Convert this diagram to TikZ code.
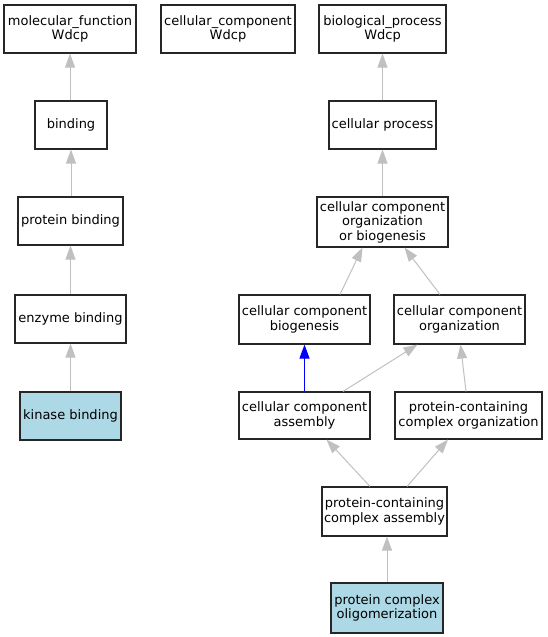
\documentclass[tikz,border=0pt]{standalone}
\usepackage{fontspec}
\setmainfont{DejaVu Sans}
\usetikzlibrary{arrows.meta}
\definecolor{edgegrey}{HTML}{C0C0C0}
\definecolor{boxblue}{HTML}{ADD8E6}
\begin{document}
\begin{tikzpicture}[x=1pt,y=-1pt,
  term/.style={draw=black!85,line width=1.1pt,fill=white,align=center,inner sep=0pt,
    font=\fontsize{13}{14.5}\selectfont},
  leaf/.style={term,fill=boxblue},
  isa/.style={draw=edgegrey,line width=1pt,-{Triangle[length=14pt,width=10pt]}},
  partof/.style={draw=blue,line width=1pt,-{Triangle[length=14pt,width=10pt]}}]
\useasboundingbox (0,0) rectangle (547,637);
% nodes
\node[term,minimum width=132pt,minimum height=48pt] (mf) at (70,29) {molecular\_function\\Wdcp};
\node[term,minimum width=134pt,minimum height=48pt] (cc) at (228,29) {cellular\_component\\Wdcp};
\node[term,minimum width=127pt,minimum height=48pt] (bp) at (382.5,29) {biological\_process\\Wdcp};
\node[term,minimum width=72pt,minimum height=48pt] (bind) at (71,125) {binding};
\node[term,minimum width=107pt,minimum height=48pt] (cp) at (382.5,125) {cellular process};
\node[term,minimum width=105pt,minimum height=48pt] (pb) at (70.5,221) {protein binding};
\node[term,minimum width=131pt,minimum height=50pt] (ccob) at (382.5,222) {cellular component\\organization\\or biogenesis};
\node[term,minimum width=111pt,minimum height=48pt] (eb) at (70.5,319) {enzyme binding};
\node[leaf,minimum width=101pt,minimum height=48pt] (kb) at (70.5,416) {kinase binding};
\node[term,minimum width=131pt,minimum height=49pt] (ccb) at (304.5,319.5) {cellular component\\biogenesis};
\node[term,minimum width=131pt,minimum height=49pt] (cco) at (459.5,319.5) {cellular component\\organization};
\node[term,minimum width=131pt,minimum height=47pt] (cca) at (304.5,415.5) {cellular component\\assembly};
\node[term,minimum width=147pt,minimum height=47pt] (pcco) at (468.5,415.5) {protein-containing\\complex organization};
\node[term,minimum width=125pt,minimum height=49pt] (pcca) at (384.5,511.5) {protein-containing\\complex assembly};
\node[leaf,minimum width=112pt,minimum height=50pt] (pco) at (387,608) {protein complex\\oligomerization};
% edges
\draw[isa] (bind.north -| mf.south) -- (mf.south);
\draw[isa] (pb.north -| bind.south) -- (bind.south);
\draw[isa] (eb.north) -- (pb.south -| eb.north);
\draw[isa] (kb.north) -- (eb.south -| kb.north);
\draw[isa] (cp.north) -- (bp.south);
\draw[isa] (ccob.north) -- (cp.south);
\draw[isa] ([xshift=35.5pt]ccb.north) -- ([xshift=-20pt]ccob.south);
\draw[isa] ([xshift=-19.5pt]cco.north) -- ([xshift=22pt]ccob.south);
\draw[partof] (cca.north) -- (ccb.south);
\draw[isa] ([xshift=38.5pt]cca.north) -- ([xshift=-42pt]cco.south);
\draw[isa] ([xshift=-2.5pt]pcco.north) -- ([xshift=1pt]cco.south);
\draw[isa] ([xshift=-14.5pt]pcca.north) -- ([xshift=22pt]cca.south);
\draw[isa] ([xshift=22.5pt]pcca.north) -- ([xshift=-20.5pt]pcco.south);
\draw[isa] (pco.north) -- (pco.north |- pcca.south);
\end{tikzpicture}
\end{document}
